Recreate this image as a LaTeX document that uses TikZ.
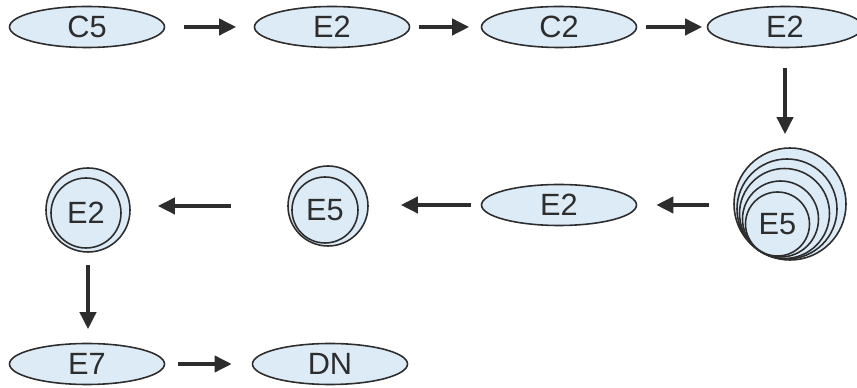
\documentclass[tikz,border=0pt]{standalone}
\usepackage{fontspec}
\setmainfont{Liberation Sans}
\usetikzlibrary{shapes.geometric,arrows.meta}
\definecolor{cellblue}{RGB}{221,235,247}
\definecolor{inkgray}{RGB}{45,45,45}
\tikzset{
  cell/.style={ellipse,draw=inkgray,line width=0.9pt,fill=cellblue,
    minimum width=31mm,minimum height=8.2mm,inner sep=0pt,text=inkgray,
    font=\fontsize{17.5}{17.5}\selectfont},
  ball/.style={circle,draw=inkgray,line width=0.9pt,fill=cellblue,
    inner sep=0pt,text=inkgray,font=\fontsize{17.5}{17.5}\selectfont},
  arr/.style={line width=2.1pt,draw=inkgray,-{Triangle[length=3.4mm,width=3.2mm]}}
}
\begin{document}
\begin{tikzpicture}[x=0.2mm,y=-0.2mm]
\useasboundingbox (0,0) rectangle (857,388);
\node[cell] (c5) at (87,27) {C5};
\node[cell] (e2a) at (332,27) {E2};
\node[cell] (c2) at (559,27) {C2};
\node[cell] (e2b) at (785,27) {E2};
\node[ball,minimum size=22.4mm] (stka) at (790,204) {};
\node[ball,minimum size=20mm] (stkb) at (787,209) {};
\node[ball,minimum size=18mm] (stkc) at (784.5,213.5) {};
\node[ball,minimum size=15.2mm] (stkd) at (780.5,219) {};
\node[ball,minimum size=12.8mm] (stke) at (777.5,224) {E5};
\node[cell] (e2c) at (559,205) {E2};
\node[ball,minimum size=16mm] (e5a) at (328,206) {};
\node[ball,minimum size=13.2mm] (e5b) at (325,210) {E5};
\node[ball,minimum size=16.8mm] (e2d) at (88,210) {};
\node[ball,minimum size=14mm] (e2e) at (86,213) {E2};
\node[cell] (e7) at (87,364) {E7};
\node[cell] (dn) at (330,364) {DN};
\draw[arr,shorten <=3.7mm,shorten >=3.5mm] (c5) -- (e2a);
\draw[arr,shorten <=1.7mm,shorten >=2.3mm] (e2a) -- (c2);
\draw[arr,shorten <=1.7mm,shorten >=0.9mm] (c2) -- (e2b);
\draw[arr,shorten <=4mm,shorten >=2.6mm] (e2b.south) -- (e2b.south |- stka.north);
\draw[arr,shorten <=4.8mm,shorten >=3.8mm] (stka.west |- e2c) -- (e2c.east);
\draw[arr,shorten <=2mm,shorten >=6.4mm] (e2c.west) -- (e2c.west -| e5a.east);
\draw[arr,shorten <=11.2mm,shorten >=5.4mm] (e5a.west) -- (e5a.west -| e2d.east);
\draw[arr,shorten <=2.4mm,shorten >=2.7mm] (e2d.south) -- (e2d.south |- e7.north);
\draw[arr,shorten <=2.6mm,shorten >=4mm] (e7) -- (dn);
\end{tikzpicture}
\end{document}
